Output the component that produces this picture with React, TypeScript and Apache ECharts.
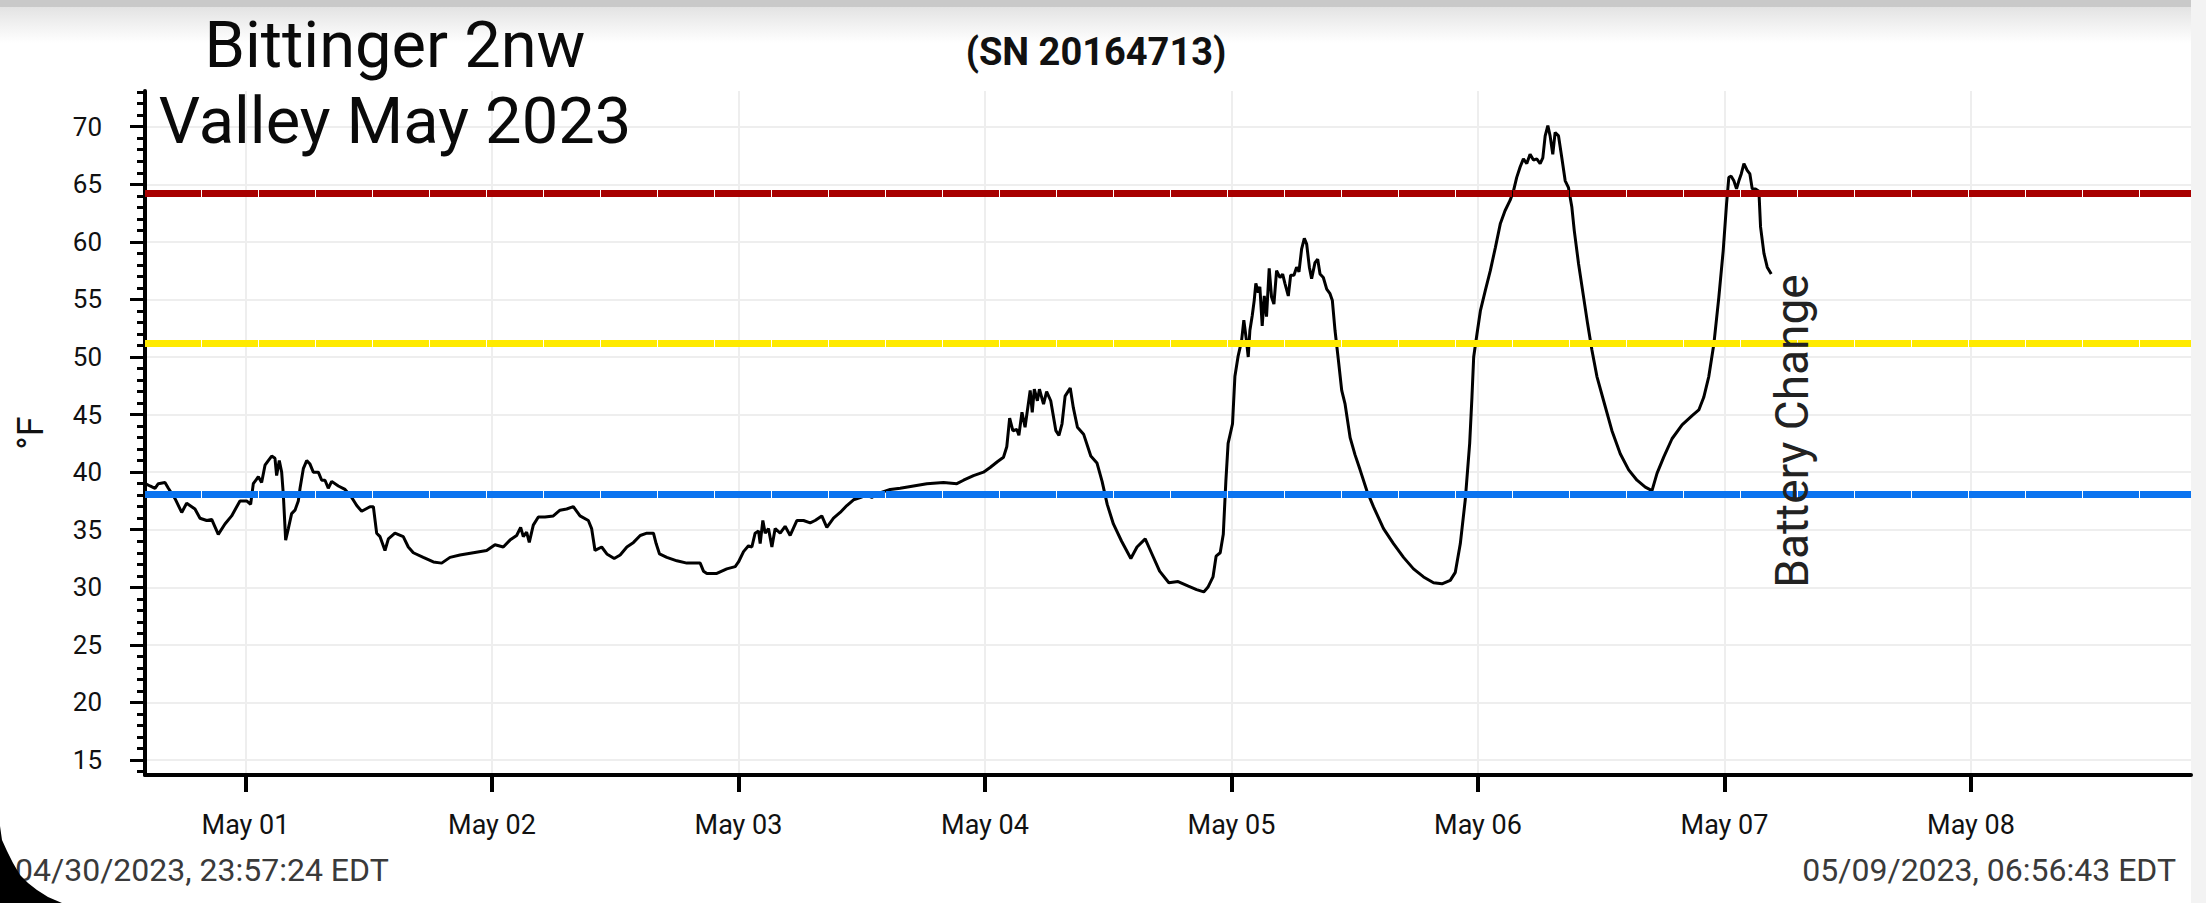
import React, { useEffect, useRef } from "react";
import * as echarts from "echarts";

// Hours since May 01 00:00 and temperature (°F)
const hours = [
  -9.75, -9.3, -8.81, -8.49, -7.84, -7.51, -6.86, -6.21, -5.73, -4.92, -4.43, -3.78, -3.29, -2.65, -2.0, -1.35,
  -0.54, 0.11, 0.5, 0.76, 1.25, 1.57, 1.9, 2.22, 2.55, 2.87, 3.03, 3.29, 3.52, 3.68, 3.91, 4.17, 4.49, 4.82,
  5.14, 5.31, 5.63, 5.96, 6.28, 6.6, 7.09, 7.42, 7.74, 8.06, 8.39, 9.04, 9.69, 10.34, 10.83, 11.31, 12.12,
  12.45, 12.77, 13.1, 13.58, 13.91, 14.55, 15.36, 15.85, 16.34, 17.31, 18.29, 19.1, 19.91, 20.88, 22.18,
  23.48, 24.29, 25.1, 25.75, 26.4, 26.79, 27.05, 27.37, 27.63, 28.02, 28.51, 29.16, 29.97, 30.62, 31.27,
  31.92, 32.57, 33.38, 33.7, 34.03, 34.68, 35.18, 35.9, 36.48, 37.13, 37.78, 38.43, 39.08, 39.72, 39.98,
  40.31, 41.02, 42.0, 42.97, 44.27, 44.59, 44.92, 45.89, 46.86, 47.68, 48.0, 48.49, 48.97, 49.3, 49.62,
  49.95, 50.11, 50.37, 50.6, 50.92, 51.25, 51.57, 52.06, 52.54, 53.03, 53.68, 54.33, 54.98, 55.46, 56.11,
  56.6, 57.25, 57.9, 58.55, 59.2, 59.85, 60.49, 60.98, 61.47, 62.77, 63.74, 65.04, 66.34, 67.96, 69.26,
  69.91, 70.88, 71.85, 72.5, 73.2, 73.8, 74.12, 74.4, 74.71, 75.1, 75.3, 75.6, 75.9, 76.4, 76.6, 76.8, 77.1,
  77.3, 77.7, 78.0, 78.4, 78.9, 79.2, 79.5, 79.8, 80.3, 80.6, 81.0, 81.6, 82.3, 82.9, 83.4, 83.9, 84.5,
  85.3, 86.2, 86.8, 87.6, 88.2, 89.0, 89.9, 90.8, 91.8, 92.6, 93.3, 93.7, 94.2, 94.5, 94.9, 95.2, 95.45,
  95.67, 96.1, 96.33, 96.65, 96.98, 97.2, 97.46, 97.63, 97.79, 98.02, 98.21, 98.37, 98.6, 98.76, 98.99,
  99.19, 99.41, 99.67, 99.9, 100.13, 100.39, 100.72, 100.98, 101.2, 101.53, 101.76, 102.08, 102.34, 102.57,
  102.83, 103.09, 103.32, 103.58, 103.8, 104.13, 104.39, 104.62, 104.94, 105.27, 105.59, 105.82, 106.08,
  106.41, 106.73, 107.06, 107.55, 108.03, 108.52, 109.17, 109.82, 110.8, 111.77, 112.75, 113.72, 114.7,
  115.67, 116.49, 117.3, 117.79, 118.28, 118.76, 119.19, 119.41, 119.58, 119.9, 120.23, 120.72, 121.2,
  121.69, 122.18, 122.63, 123.12, 123.45, 123.77, 124.1, 124.42, 124.75, 125.07, 125.4, 125.72, 126.05,
  126.31, 126.54, 126.8, 127.02, 127.28, 127.51, 127.84, 128.16, 128.49, 128.81, 129.14, 129.37, 129.79,
  130.28, 130.67, 131.09, 131.58, 132.23, 133.04, 133.85, 134.67, 135.48, 136.29, 136.94, 137.43, 138.08,
  138.89, 139.87, 140.85, 141.5, 141.98, 142.47, 142.96, 143.45, 143.87, 144.2, 144.42, 144.65, 144.91,
  145.17, 145.4, 145.63, 145.89, 146.21, 146.47, 146.7, 147.02, 147.35, 147.51, 147.84, 148.16, 148.55,
];

const tempF = [
  39.0, 38.8, 38.6, 39.0, 39.1, 38.6, 37.7, 36.5, 37.3, 36.8, 36.0, 35.8, 35.9, 34.6, 35.5, 36.2,
  37.5, 37.5, 37.2, 39.0, 39.6, 39.1, 40.6, 41.0, 41.4, 41.2, 39.7, 41.0, 40.0, 38.1, 34.1, 35.1, 36.4, 36.7,
  37.5, 38.6, 40.3, 41.0, 40.7, 40.0, 40.0, 39.3, 39.3, 38.6, 39.2, 38.8, 38.5, 37.8, 37.1, 36.6, 37.0,
  37.0, 34.7, 34.4, 33.2, 34.2, 34.7, 34.4, 33.5, 33.0, 32.6, 32.2, 32.1, 32.6, 32.8, 33.0,
  33.2, 33.7, 33.5, 34.1, 34.5, 35.2, 34.4, 34.8, 33.9, 35.4, 36.1, 36.1, 36.2, 36.7, 36.8,
  37.0, 36.2, 35.8, 35.1, 33.2, 33.5, 32.9, 32.5, 32.8, 33.5, 33.9, 34.5, 34.7, 34.7, 33.8,
  32.9, 32.6, 32.3, 32.1, 32.1, 31.4, 31.2, 31.2, 31.6, 31.8, 32.2, 33.1, 33.6, 33.5, 34.7,
  34.9, 33.8, 35.8, 34.7, 35.1, 33.5, 35.1, 34.7, 35.3, 34.5, 35.8, 35.8, 35.6, 35.8, 36.2,
  35.2, 36.0, 36.5, 37.1, 37.6, 37.8, 38.0, 37.8, 38.1, 38.5, 38.6, 38.8, 39.0, 39.1, 39.0,
  39.3, 39.7, 40.0, 40.4, 40.9, 41.3, 42.2, 44.7, 43.6, 43.7, 43.2, 45.2, 43.9, 47.1, 45.2, 47.2, 46.2,
  47.2, 45.9, 47.0, 46.2, 43.6, 43.2, 44.2, 46.6, 47.3, 45.6, 43.9, 43.3, 41.4, 40.8, 39.2, 37.2, 35.5,
  34.0, 32.5, 33.5, 34.2, 33.0, 31.4, 30.4, 30.5, 30.1, 29.8, 29.6, 30.0, 30.9, 32.7, 33.0, 34.6, 39.2,
  42.5, 44.2, 48.3, 50.1, 51.4, 53.2, 51.4, 50.0, 52.3, 53.6, 54.9, 56.4, 55.6, 56.1, 52.7,
  55.3, 53.5, 57.7, 55.2, 54.6, 57.5, 56.9, 57.2, 56.4, 55.3, 57.1, 57.1, 57.8, 57.4,
  59.4, 60.3, 59.8, 57.8, 56.8, 58.2, 58.5, 57.2, 56.9, 55.9, 55.5, 54.9, 52.3,
  49.7, 47.1, 45.9, 43.0, 41.5, 40.2, 38.4, 37.0, 35.1, 33.8, 32.6, 31.6, 30.9,
  30.4, 30.3, 30.6, 31.3, 33.8, 37.6, 42.5, 46.5, 50.0, 52.0, 54.0, 55.8, 57.5,
  59.5, 61.6, 62.7, 63.6, 64.4, 65.6, 66.5, 67.2, 66.8, 67.6, 67.1, 67.2, 66.8,
  67.3, 69.2, 70.1, 69.2, 67.6, 69.5, 69.2, 67.3, 65.3, 64.7, 63.0, 61.0, 58.1,
  55.2, 52.9, 50.6, 48.3, 46.2, 43.6, 41.6, 40.2, 39.3, 38.7, 38.4, 39.9, 41.3,
  42.9, 44.1, 44.9, 45.4, 46.5, 48.3, 51.1, 55.2, 59.2, 63.3, 65.6, 65.7, 65.3,
  64.6, 65.3, 65.9, 66.8, 66.2, 65.9, 64.6, 64.6, 64.4, 61.3, 59.0, 57.8, 57.2,
];

const dayTicks = [0, 24, 48, 72, 96, 120, 144, 168];
const dayLabels = ["May 01", "May 02", "May 03", "May 04", "May 05", "May 06", "May 07", "May 08"];
const yMajorTicks = [15, 20, 25, 30, 35, 40, 45, 50, 55, 60, 65, 70];
const yMinorTicks = [
  14, 15, 16, 17, 18, 19, 20, 21, 22, 23, 24, 25, 26, 27, 28, 29, 30, 31, 32, 33, 34, 35, 36, 37, 38, 39, 40,
  41, 42, 43, 44, 45, 46, 47, 48, 49, 50, 51, 52, 53, 54, 55, 56, 57, 58, 59, 60, 61, 62, 63, 64, 65, 66, 67,
  68, 69, 70, 71, 72, 73,
];
const thresholds = [
  { value: 64.25, color: "#a80000" },
  { value: 51.2, color: "#ffea00" },
  { value: 38.1, color: "#0b74f0" },
];
const titleLine1 = "Bittinger 2nw";
const titleLine2 = "Valley May 2023";
const serialText = "(SN 20164713)";
const startStamp = "04/30/2023, 23:57:24 EDT";
const endStamp = "05/09/2023, 06:56:43 EDT";
const noteText = "Battery Change";

const FONT = "Roboto";

export default function App() {
  const ref = useRef<HTMLDivElement>(null);

  useEffect(() => {
    if (!ref.current) return;
    const chart = echarts.init(ref.current, undefined, { renderer: "svg" });
    const seriesData = hours.map((h, i) => [h, tempF[i]]);

    const option: any = {
      animation: false,
      backgroundColor: "#ffffff",
      grid: { left: 145, right: 15, top: 91, bottom: 128, containLabel: false },
      xAxis: {
        type: "value",
        min: -9.785,
        max: 189.42,
        axisLine: { show: true, onZero: false, lineStyle: { color: "#000", width: 4 } },
        axisTick: {
          show: true,
          customValues: dayTicks,
          length: 17,
          lineStyle: { color: "#000", width: 4 },
        },
        axisLabel: {
          show: true,
          customValues: dayTicks,
          margin: 36,
          fontSize: 27,
          fontFamily: FONT,
          color: "#111",
          formatter: (v: number) => dayLabels[dayTicks.indexOf(Math.round(v))] ?? "",
        },
        splitLine: { show: true, lineStyle: { color: "#eeeeee", width: 2 } },
      },
      yAxis: [
        {
          type: "value",
          min: 13.7,
          max: 73.1,
          position: "left",
          name: "°F",
          nameLocation: "middle",
          nameRotate: 90,
          nameGap: 96,
          nameTextStyle: { fontSize: 36, fontFamily: FONT, color: "#111" },
          axisLine: { show: true, onZero: false, lineStyle: { color: "#000", width: 4 } },
          axisTick: {
            show: true,
            customValues: yMajorTicks,
            length: 15,
            lineStyle: { color: "#000", width: 3 },
          },
          axisLabel: {
            show: true,
            customValues: yMajorTicks,
            margin: 43,
            fontSize: 26,
            fontFamily: FONT,
            color: "#111",
          },
          splitLine: { show: true, lineStyle: { color: "#eeeeee", width: 2 } },
        },
        {
          type: "value",
          min: 13.7,
          max: 73.1,
          position: "left",
          offset: 0,
          axisLine: { show: false, onZero: false },
          axisTick: {
            show: true,
            customValues: yMinorTicks,
            length: 8,
            lineStyle: { color: "#000", width: 3 },
          },
          axisLabel: { show: false },
          splitLine: { show: false },
        },
      ],
      series: [
        {
          type: "line",
          z: 1,
          data: [],
          silent: true,
          markLine: {
            silent: true,
            symbol: "none",
            label: { show: false },
            data: thresholds.map((t) => ({
              yAxis: t.value,
              lineStyle: { color: t.color, width: 7, type: [56, 1], opacity: 1 },
            })),
          },
        },
        {
          type: "line",
          z: 3,
          data: seriesData,
          showSymbol: false,
          symbol: "none",
          lineStyle: { color: "#000", width: 3 },
          silent: true,
        },
      ],
      graphic: [
        { type: "rect", z: 0, shape: { x: 0, y: 0, width: 2206, height: 7 }, style: { fill: "#c9c9c9" } },
        {
          type: "rect",
          z: 0,
          shape: { x: 0, y: 7, width: 2206, height: 36 },
          style: {
            fill: new echarts.graphic.LinearGradient(0, 0, 0, 1, [
              { offset: 0, color: "#e3e3e3" },
              { offset: 1, color: "#ffffff" },
            ]),
          },
        },
        { type: "rect", z: 0, shape: { x: 2191, y: 0, width: 15, height: 903 }, style: { fill: "#f3f3f3" } },
        {
          type: "text",
          z: 100,
          x: 395,
          y: 45,
          style: { text: titleLine1, fontSize: 65, fontFamily: FONT, fill: "#0a0a0a", textAlign: "center", textVerticalAlign: "middle" },
        },
        {
          type: "text",
          z: 100,
          x: 395,
          y: 121,
          style: { text: titleLine2, fontSize: 65, fontFamily: FONT, fill: "#0a0a0a", textAlign: "center", textVerticalAlign: "middle" },
        },
        {
          type: "text",
          z: 100,
          x: 1096,
          y: 52,
          style: { text: serialText, fontSize: 38, fontWeight: "bold", fontFamily: FONT, fill: "#111", textAlign: "center", textVerticalAlign: "middle" },
        },
        {
          type: "text",
          z: 100,
          x: 1792,
          y: 431,
          rotation: Math.PI / 2,
          style: { text: noteText, fontSize: 46, fontFamily: FONT, fill: "#222", textAlign: "center", textVerticalAlign: "middle" },
        },
        {
          type: "text",
          z: 100,
          x: 15,
          y: 870,
          style: { text: startStamp, fontSize: 32, fontFamily: FONT, fill: "#3a3a3a", textAlign: "left", textVerticalAlign: "middle" },
        },
        {
          type: "text",
          z: 100,
          x: 2176,
          y: 870,
          style: { text: endStamp, fontSize: 32, fontFamily: FONT, fill: "#3a3a3a", textAlign: "right", textVerticalAlign: "middle" },
        },
        {
          type: "polygon",
          z: 110,
          shape: {
            points: [
              [0, 826], [2, 840], [7, 851], [13, 863], [20, 875], [28, 883], [37, 890], [48, 897], [62, 903], [0, 903],
            ],
          },
          style: { fill: "#000" },
        },
      ],
    };

    chart.setOption(option);
    return () => chart.dispose();
  }, []);

  return (
    <div
      ref={ref}
      style={{ position: "fixed", left: 0, top: 0, width: 2206, height: 903, background: "#fff" }}
    />
  );
}
